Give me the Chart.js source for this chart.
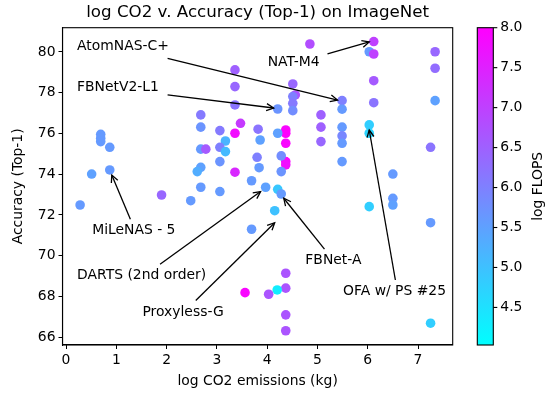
<!DOCTYPE html>
<html><head><meta charset="utf-8">
<script src="https://cdn.jsdelivr.net/npm/chart.js@4"></script>
<style>html,body{margin:0;padding:0;background:#fff}</style>
</head><body>
<canvas id="c" width="550" height="393" style="width:550px;height:393px;display:block"></canvas>
<script>
// ---- data ----
const co2 = [0.28,0.51,0.69,0.69,0.69,0.87,0.87,2.68,2.68,3.36,3.36,3.36,3.47,3.36,3.06,3.17,2.68,2.78,3.06,3.17,
  3.82,3.86,3.80,2.68,2.61,3.06,3.36,3.69,2.68,3.06,1.90,2.48,3.69,3.56,4.85,6.12,6.03,6.12,6.12,6.12,
  6.03,6.03,7.34,7.34,7.34,7.25,6.50,4.51,4.56,4.51,4.51,4.51,4.21,5.49,5.49,5.07,5.07,5.07,5.49,5.49,
  5.49,5.49,4.37,4.37,4.37,4.37,4.37,4.21,4.28,4.28,3.84,3.97,4.21,4.28,4.15,6.03,6.50,6.50,7.25,4.37,
  4.37,4.20,4.03,4.37,4.37,7.25];
const accuracy = [72.49,74.01,75.96,75.77,75.60,75.32,74.21,76.91,76.31,79.12,78.30,77.40,76.50,76.01,76.14,75.63,75.23,75.23,75.32,75.11,
  76.21,75.68,74.83,74.34,74.13,74.62,74.10,73.68,73.36,73.15,72.98,72.70,71.30,68.19,80.39,80.51,80.01,79.90,78.59,77.51,
  76.42,76.01,80.01,79.20,77.61,75.32,74.01,78.43,77.89,77.81,77.48,77.12,77.20,77.61,77.19,76.91,76.31,75.60,76.31,75.88,
  75.52,74.62,76.17,76.01,75.52,74.62,74.46,76.01,74.90,74.13,74.32,73.36,73.26,73.03,72.21,72.41,72.82,72.49,71.62,69.14,
  68.41,68.32,68.11,67.10,66.32,66.69];
const logFlops = [5.6,5.5,5.6,5.6,5.6,5.6,5.6,6.1,5.7,6.5,6.4,6.2,7.1,7.8,6.1,5.2,5.6,6.6,6.0,5.1,
  6.2,5.5,6.0,5.5,5.3,5.7,7.4,5.6,5.6,5.6,6.4,5.6,5.6,7.9,6.8,7.0,5.6,7.0,6.6,6.2,
  4.8,4.7,6.4,6.3,5.5,6.2,5.6,6.4,6.7,6.0,6.1,5.8,5.7,6.0,5.6,6.5,6.5,6.4,5.6,5.9,
  5.6,5.6,7.9,8.0,7.9,7.9,7.8,5.5,5.8,5.7,5.6,5.5,4.9,5.6,5.0,4.8,5.6,5.5,5.6,6.7,
  6.7,4.3,6.7,6.7,6.7,4.8];
const xTicks = [0,1,2,3,4,5,6,7];
const yTicks = [66,68,70,72,74,76,78,80];
const cbTicks = [4.5,5.0,5.5,6.0,6.5,7.0,7.5,8.0];
const cbMin = 4.03, cbMax = 8.0;

// annotation labels with text anchor, arrow tail, arrow head (data units)
const annLabels = ["AtomNAS-C+","FBNetV2-L1","NAT-M4","MiLeNAS - 5","DARTS (2nd order)","Proxyless-G","FBNet-A","OFA w/ PS #25"];
const annText = [[0.22,80.25],[0.22,78.28],[4.01,79.51],[0.52,71.22],[0.22,69.06],[1.52,67.23],[4.76,69.76],[5.51,68.24]];
const annFrom = [[2.02,79.69],[2.02,77.89],[5.20,79.90],[1.28,71.79],[1.87,69.58],[2.58,67.80],[5.14,70.32],[6.55,68.81]];
const annTo   = [[5.40,77.64],[4.13,77.25],[6.03,80.49],[0.91,73.96],[3.87,73.15],[4.15,71.62],[4.33,72.82],[6.03,76.17]];

const FONT = "'DejaVu Sans', sans-serif";
function coolColor(v){
  let t = (v - cbMin)/(cbMax - cbMin); t = Math.max(0, Math.min(1, t));
  return `rgb(${Math.round(255*t)},${Math.round(255*(1-t))},255)`;
}

const extras = {
  id: 'extras',
  afterDraw(chart){
    const {ctx, chartArea: a, scales: {x, y}} = chart;
    ctx.save();
    // frame
    ctx.strokeStyle = '#000'; ctx.lineWidth = 1.1;
    ctx.strokeRect(a.left, a.top, a.right - a.left, a.bottom - a.top);
    // title
    ctx.fillStyle = '#000';
    ctx.font = `16.7px ${FONT}`;
    ctx.textAlign = 'center'; ctx.textBaseline = 'middle';
    ctx.fillText('log CO2 v. Accuracy (Top-1) on ImageNet', (a.left + a.right)/2, 13);
    // annotations
    ctx.font = `13.9px ${FONT}`;
    ctx.textAlign = 'left'; ctx.textBaseline = 'middle';
    ctx.lineWidth = 1.3;
    for (let i = 0; i < annLabels.length; i++){
      const tx = x.getPixelForValue(annText[i][0]), ty = y.getPixelForValue(annText[i][1]);
      ctx.fillText(annLabels[i], tx, ty);
      const x1 = x.getPixelForValue(annFrom[i][0]), y1 = y.getPixelForValue(annFrom[i][1]);
      const x2 = x.getPixelForValue(annTo[i][0]), y2 = y.getPixelForValue(annTo[i][1]);
      ctx.beginPath(); ctx.moveTo(x1, y1); ctx.lineTo(x2, y2); ctx.stroke();
      const ang = Math.atan2(y2 - y1, x2 - x1), hl = 8, hw = 0.45;
      ctx.beginPath();
      ctx.moveTo(x2 - hl*Math.cos(ang - hw), y2 - hl*Math.sin(ang - hw));
      ctx.lineTo(x2, y2);
      ctx.lineTo(x2 - hl*Math.cos(ang + hw), y2 - hl*Math.sin(ang + hw));
      ctx.stroke();
    }
    // colorbar
    const cl = 477.3, cr = 493.3, ct = a.top, cb = a.bottom;
    const g = ctx.createLinearGradient(0, cb, 0, ct);
    g.addColorStop(0, coolColor(cbMin)); g.addColorStop(1, coolColor(cbMax));
    ctx.fillStyle = g; ctx.fillRect(cl, ct, cr - cl, cb - ct);
    ctx.strokeStyle = '#000'; ctx.lineWidth = 1.1;
    ctx.strokeRect(cl, ct, cr - cl, cb - ct);
    ctx.fillStyle = '#000'; ctx.font = `13.9px ${FONT}`;
    ctx.textAlign = 'left'; ctx.textBaseline = 'middle';
    for (const v of cbTicks){
      const py = cb - (v - cbMin)/(cbMax - cbMin)*(cb - ct);
      ctx.beginPath(); ctx.moveTo(cr, py); ctx.lineTo(cr + 4, py); ctx.stroke();
      ctx.fillText(v.toFixed(1), cr + 7, py);
    }
    ctx.translate(538, (ct + cb)/2); ctx.rotate(-Math.PI/2);
    ctx.textAlign = 'center';
    ctx.fillText('log FLOPS', 0, 0);
    ctx.restore();
  }
};

const points = co2.map((v, i) => ({x: v, y: accuracy[i]}));
new Chart(document.getElementById('c'), {
  type: 'scatter',
  data: { datasets: [{
    data: points,
    pointBackgroundColor: logFlops.map(coolColor),
    pointBorderWidth: 0,
    pointRadius: 4.8,
    pointHoverRadius: 4.8
  }]},
  options: {
    responsive: false, animation: false, devicePixelRatio: 1, events: [],
    layout: { padding: { top: 27.7, right: 97.3, left: 0, bottom: 0 } },
    plugins: { legend: {display: false}, tooltip: {enabled: false}, title: {display: false} },
    scales: {
      x: {
        type: 'linear', min: -0.07, max: 7.69,
        afterBuildTicks: s => { s.ticks = xTicks.map(v => ({value: v})); },
        afterFit: s => { s.height = 48; },
        grid: { drawOnChartArea: false, drawTicks: true, tickLength: 4, color: '#000', lineWidth: 1 },
        border: { color: '#000', width: 1.1 },
        ticks: { color: '#000', font: {family: FONT, size: 13.9}, padding: 3, maxRotation: 0, callback: v => String(v) },
        title: { display: true, text: 'log CO2 emissions (kg)', color: '#000', font: {family: FONT, size: 13.9}, padding: {top: 0, bottom: 3} }
      },
      y: {
        type: 'linear', min: 65.62, max: 81.19,
        afterBuildTicks: s => { s.ticks = yTicks.map(v => ({value: v})); },
        afterFit: s => { s.width = 62.5; },
        grid: { drawOnChartArea: false, drawTicks: true, tickLength: 4, color: '#000', lineWidth: 1 },
        border: { color: '#000', width: 1.1 },
        ticks: { color: '#000', font: {family: FONT, size: 13.9}, padding: 3, callback: v => String(v) },
        title: { display: true, text: 'Accuracy (Top-1)', color: '#000', font: {family: FONT, size: 13.9}, padding: {top: 10.5, bottom: 0} }
      }
    }
  },
  plugins: [extras]
});
</script>
</body></html>
